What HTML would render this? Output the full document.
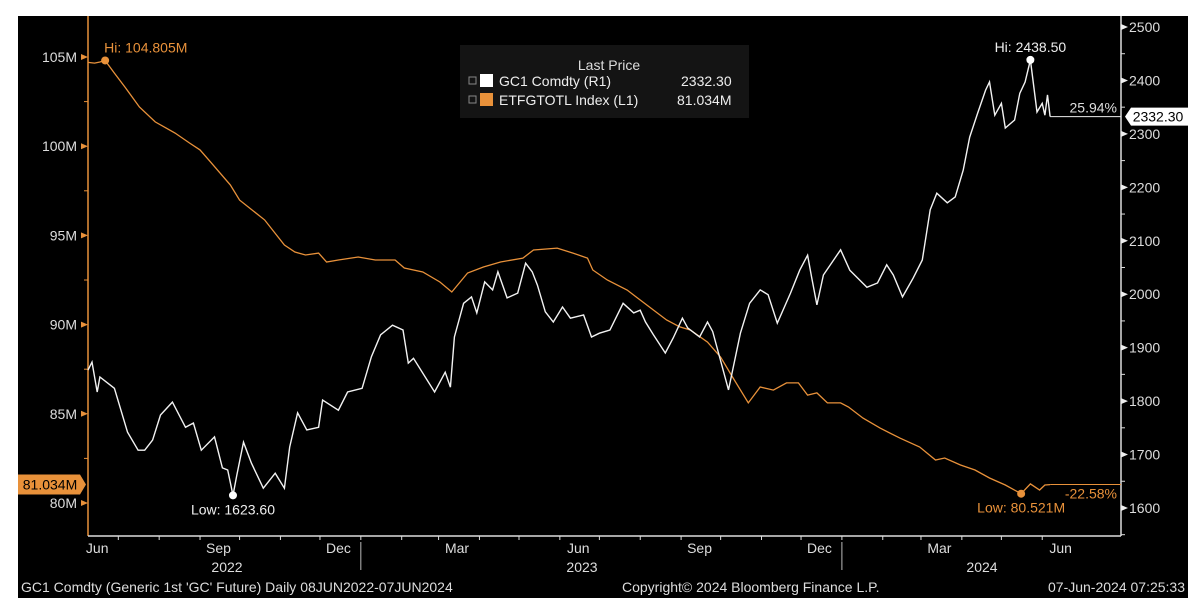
<!DOCTYPE html>
<html><head><meta charset="utf-8">
<style>
html,body{margin:0;padding:0;background:#fff;width:1200px;height:615px;overflow:hidden}
svg{display:block}
text{font-family:"Liberation Sans","DejaVu Sans",sans-serif}
</style></head>
<body>
<svg id="chart" width="1200" height="615" xmlns="http://www.w3.org/2000/svg">
<rect x="18" y="16" width="1170" height="582" fill="#000"/>
<g id="axes"></g>
<g id="series"></g>
<g>
<rect x="460" y="45" width="289" height="73" fill="#141414"/>
<text x="609" y="70" fill="#ddd" font-size="14" text-anchor="middle">Last Price</text>
<rect x="469" y="77" width="7" height="7" fill="none" stroke="#888"/>
<rect x="480" y="74" width="13" height="13" fill="#fff"/>
<text x="499" y="86" fill="#eee" font-size="14">GC1 Comdty  (R1)</text>
<text x="681" y="86" fill="#eee" font-size="14">2332.30</text>
<rect x="469" y="96" width="7" height="7" fill="none" stroke="#888"/>
<rect x="480" y="93" width="13" height="13" fill="#e8913a"/>
<text x="499" y="105" fill="#eee" font-size="14">ETFGTOTL Index  (L1)</text>
<text x="677" y="105" fill="#eee" font-size="14">81.034M</text>
</g>
<g font-size="14" fill="#ddd">
<text x="21" y="592" fill="#ddd">GC1 Comdty (Generic 1st 'GC' Future)  Daily 08JUN2022-07JUN2024</text>
<text x="622" y="592" fill="#ddd">Copyright© 2024 Bloomberg Finance L.P.</text>
<text x="1185" y="592" fill="#ddd" text-anchor="end">07-Jun-2024 07:25:33</text>
</g>
</svg>
<script>
// Gold (GC1) — day offsets from 08-Jun-2022 and prices
const goldDays=[0,3,7,9,20,30,38,43,49,55,64,74,80,86,96,102,106,110,113,118,124,133,142,149,153,159,166,175,178,190,197,208,215,222,231,239,243,247,263,271,275,278,285,291,295,301,307,311,318,326,332,337,341,347,353,360,366,376,382,388,396,406,414,419,423,429,438,444,451,455,464,470,474,486,495,502,510,516,523,533,540,546,549,553,558,571,578,591,599,606,611,618,626,633,639,644,652,658,664,669,675,681,684,688,693,696,703,707,711,715,720,724,726,728,730];
const goldValues=[1858,1873,1817,1845,1824,1742,1708,1708,1727,1774,1798,1751,1759,1708,1733,1675,1671,1623.6,1662,1723,1684,1637,1665,1637,1714,1778,1746,1751,1802,1783,1817,1824,1883,1924,1942,1933,1871,1880,1817,1854,1826,1920,1983,1995,1965,2023,2008,2042,1993,2002,2058,2042,2017,1967,1948,1976,1955,1961,1920,1927,1933,1983,1965,1970,1948,1924,1890,1918,1955,1937,1920,1948,1930,1821,1927,1983,2008,1999,1946,2002,2045,2073,2032,1980,2036,2083,2045,2013,2021,2055,2036,1995,2030,2064,2158,2189,2171,2182,2232,2294,2339,2382,2397,2335,2357,2311,2326,2376,2397,2438.5,2341,2357,2335,2373,2332.3];
// ETF holdings (ETFGTOTL, millions oz)
const etfDays=[0,5,9,13,20,28,39,51,66,77,85,93,108,115,134,149,157,165,175,181,190,205,218,233,240,254,267,276,288,300,313,330,338,356,368,379,383,394,409,419,429,439,449,457,470,480,489,501,510,520,530,539,546,553,561,571,577,588,601,616,631,643,650,662,673,684,696,708,715,722,726,730];
const etfValues=[104.7,104.66,104.72,104.805,104.1,103.32,102.2,101.36,100.74,100.18,99.79,99.11,97.83,96.98,95.87,94.46,94.07,93.9,94.01,93.51,93.62,93.79,93.62,93.62,93.17,92.95,92.39,91.83,92.89,93.23,93.51,93.73,94.18,94.29,94.01,93.73,93.06,92.5,91.94,91.38,90.82,90.26,89.87,89.7,89.02,88.18,87.06,85.61,86.5,86.33,86.73,86.73,86.05,86.17,85.61,85.61,85.38,84.76,84.2,83.64,83.14,82.41,82.52,82.13,81.85,81.4,81.01,80.521,81.07,80.73,81.01,81.034];
const leftTicks=[105,100,95,90,85,80];
const rightTicks=[2500,2400,2300,2200,2100,2000,1900,1800,1700,1600];
const monthLabels=["Jun","Sep","Dec","Mar","Jun","Sep","Dec","Mar","Jun"];
const yearLabels=["2022","2023","2024"];

const NS="http://www.w3.org/2000/svg";
const X0=88,XR=1121,YB=536,PXD=1.318;
const start=Date.UTC(2022,5,8);
const xDay=d=>X0+d*PXD;
const xDate=(y,m,d)=>xDay((Date.UTC(y,m,d)-start)/864e5);
const yL=v=>57+(105-v)*17.84;
const yR=v=>27+(2500-v)*0.5344;
function mk(tag,attrs,parent,txt){const e=document.createElementNS(NS,tag);for(const k in attrs)e.setAttribute(k,attrs[k]);if(txt!==undefined)e.textContent=txt;parent.appendChild(e);return e;}
const ax=document.getElementById('axes'),se=document.getElementById('series');
const ORG="#e8913a";
// axis lines
let l=mk('line',{x1:X0,y1:16,x2:X0,y2:YB,stroke:ORG,'stroke-width':1.5},ax);


l=mk('line',{x1:XR,y1:16,x2:XR,y2:YB,stroke:"#ddd",'stroke-width':1.5},ax);


l=mk('line',{x1:X0,y1:YB,x2:XR,y2:YB,stroke:"#ddd",'stroke-width':1.5},ax);


// left ticks
leftTicks.forEach((v,i)=>{const y=yL(v);
 mk('path',{d:`M${X0} ${y} L${X0-7} ${y-3} L${X0-7} ${y+3}Z`,fill:ORG},ax);
 const t=mk('text',{x:77,y:y+5,fill:"#ddd",'font-size':14,'text-anchor':'end'},ax,v+"M");
 
 
 if(i<leftTicks.length-1){const ym=yL(v-2.5);mk('line',{x1:X0-4,y1:ym,x2:X0,y2:ym,stroke:ORG},ax);}
});
rightTicks.forEach((v,i)=>{const y=yR(v);
 mk('path',{d:`M${XR} ${y-3} L${XR+7} ${y} L${XR} ${y+3}Z`,fill:"#eee"},ax);
 const t=mk('text',{x:1129,y:y+5,fill:"#ddd",'font-size':14},ax,String(v));
 
 
 const ym=yR(v-50);mk('line',{x1:XR,y1:ym,x2:XR+4,y2:ym,stroke:"#ddd"},ax);
});
// month ticks
for(let k=1;k<=24;k++){const yy=2022+Math.floor((5+k)/12),mm=(5+k)%12;const x=xDate(yy,mm,1);
 const long=mm===0;mk('line',{x1:x,y1:YB,x2:x,y2:YB+4,stroke:"#ddd"},ax);
 if(long)mk('line',{x1:x,y1:YB+6,x2:x,y2:YB+34,stroke:"#bbb"},ax);}
monthLabels.forEach((m,i)=>{const mi=5+i*3;const yy=2022+Math.floor(mi/12);const x=xDate(yy,mi%12,15);
 const t=mk('text',{x:x,y:553,fill:"#ddd",'font-size':14,'text-anchor':'middle'},ax,m);
 
 });
const yrX=[227,582,982];
yearLabels.forEach((y,i)=>{const t=mk('text',{x:yrX[i],y:572,fill:"#ddd",'font-size':14,'text-anchor':'middle'},ax,y);
 
 });
// series
const etfPath=etfDays.map((d,i)=>(i?'L':'M')+xDay(d).toFixed(1)+' '+yL(etfValues[i]).toFixed(1)).join(' ');
let p=mk('path',{d:etfPath,fill:'none',stroke:ORG,'stroke-width':1.3},se);


const goldPath=goldDays.map((d,i)=>(i?'L':'M')+xDay(d).toFixed(1)+' '+yR(goldValues[i]).toFixed(1)).join(' ');
p=mk('path',{d:goldPath,fill:'none',stroke:'#f2f2f2','stroke-width':1.4},se);


// last-value lines and tags
const gl=goldValues[goldValues.length-1],el=etfValues[etfValues.length-1];
const gx=xDay(goldDays[goldDays.length-1]),ex=xDay(etfDays[etfDays.length-1]);
mk('line',{x1:gx,y1:yR(gl),x2:XR,y2:yR(gl),stroke:'#eee'},se);
mk('line',{x1:ex,y1:yL(el),x2:XR,y2:yL(el),stroke:ORG},se);
let t=mk('text',{x:1117,y:yR(gl)-4,fill:'#ddd','font-size':14,'text-anchor':'end'},se,"25.94%");


t=mk('text',{x:1117,y:yL(el)+14,fill:ORG,'font-size':14,'text-anchor':'end'},se,"-22.58%");


let yg=yR(gl);
mk('path',{d:`M1125 ${yg} L1131 ${yg-9} L1188 ${yg-9} L1188 ${yg+9} L1131 ${yg+9}Z`,fill:'#fff'},se);
t=mk('text',{x:1158,y:yg+5,fill:'#000','font-size':14,'text-anchor':'middle'},se,gl.toFixed(2));


let ye=yL(el);
mk('path',{d:`M18 ${ye-10} L80 ${ye-10} L86 ${ye} L80 ${ye+10} L18 ${ye+10}Z`,fill:ORG},se);
t=mk('text',{x:50,y:ye+5,fill:'#000','font-size':14,'text-anchor':'middle'},se,el.toFixed(3)+"M");


// hi/low markers
function extreme(arr,fn){let k=0;arr.forEach((v,i)=>{if(fn(v,arr[k]))k=i;});return k;}
const gh=extreme(goldValues,(a,b)=>a>b),glo=extreme(goldValues,(a,b)=>a<b);
const eh=extreme(etfValues,(a,b)=>a>b),elo=extreme(etfValues,(a,b)=>a<b);
mk('circle',{cx:xDay(goldDays[gh]),cy:yR(goldValues[gh]),r:4,fill:'#fff'},se);
t=mk('text',{x:xDay(goldDays[gh]),y:yR(goldValues[gh])-8,fill:'#eee','font-size':14,'text-anchor':'middle'},se,"Hi: "+goldValues[gh].toFixed(2));


mk('circle',{cx:xDay(goldDays[glo]),cy:yR(goldValues[glo]),r:4,fill:'#fff'},se);
t=mk('text',{x:xDay(goldDays[glo]),y:yR(goldValues[glo])+19,fill:'#eee','font-size':14,'text-anchor':'middle'},se,"Low: "+goldValues[glo].toFixed(2));


mk('circle',{cx:xDay(etfDays[eh]),cy:yL(etfValues[eh]),r:4,fill:ORG},se);
t=mk('text',{x:xDay(etfDays[eh])-1,y:yL(etfValues[eh])-8,fill:ORG,'font-size':14},se,"Hi: "+etfValues[eh].toFixed(3)+"M");


mk('circle',{cx:xDay(etfDays[elo]),cy:yL(etfValues[elo]),r:4,fill:ORG},se);
t=mk('text',{x:xDay(etfDays[elo]),y:yL(etfValues[elo])+19,fill:ORG,'font-size':14,'text-anchor':'middle'},se,"Low: "+etfValues[elo].toFixed(3)+"M");


</script>
</body></html>
